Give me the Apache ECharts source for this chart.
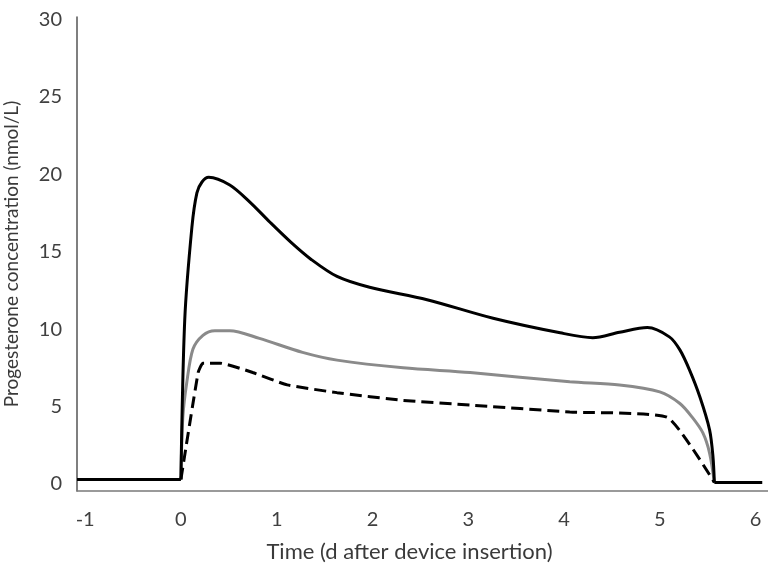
<!DOCTYPE html>
<html>
<head>
<meta charset="utf-8">
<script src="https://cdn.jsdelivr.net/npm/echarts@6/dist/echarts.min.js"></script>
<style>html,body{margin:0;padding:0;background:#fff}#c{width:768px;height:570px}</style>
</head>
<body>
<div id="c"></div>
<script>
// Tick labels
const xTicks = [-1, 0, 1, 2, 3, 4, 5, 6];
const yTicks = [0, 5, 10, 15, 20, 25, 30];

// Black solid curve (pre-insertion baseline, curve, post-removal baseline)
const blackPre = [[-1.085, 0.3], [0, 0.3]];
const blackCurve = [[0, 0.3], [0.04, 10.6], [0.115, 16.6], [0.167, 18.8], [0.22, 19.5], [0.29, 19.8], [0.51, 19.3], [0.72, 18.2], [0.93, 16.9], [1.15, 15.6], [1.36, 14.5], [1.63, 13.4], [1.97, 12.7], [2.57, 11.9], [3.26, 10.7], [3.96, 9.76], [4.3, 9.45], [4.58, 9.8], [4.87, 10.1], [5.1, 9.5], [5.21, 8.66], [5.31, 7.37], [5.42, 5.6], [5.52, 3.5], [5.555, 1.8], [5.57, 0.1]];
const blackPost = [[5.57, 0.1], [6.07, 0.1]];

// Grey solid curve
const greyCurve = [[0, 0.3], [0.02, 4.3], [0.06, 6.5], [0.125, 8.7], [0.23, 9.6], [0.355, 9.9], [0.51, 9.9], [0.82, 9.4], [1.27, 8.5], [1.63, 8.0], [2.32, 7.5], [3.02, 7.2], [4.06, 6.6], [4.58, 6.4], [5.0, 5.95], [5.21, 5.2], [5.34, 4.3], [5.45, 3.3], [5.52, 2.0], [5.57, 0.1]];

// Black dashed curve
const dashedCurve = [[0, 0.3], [0.18, 7.2], [0.23, 7.8], [0.41, 7.8], [0.75, 7.2], [1.11, 6.4], [1.63, 5.9], [2.32, 5.4], [3.02, 5.1], [4.06, 4.65], [5.08, 4.3], [5.57, 0.1]];

const chart = echarts.init(document.getElementById('c'), null, {renderer: 'canvas'});
const font = 'Lato';
const lineBase = {type: 'line', showSymbol: false, symbol: 'none', animation: false, silent: true};
chart.setOption({
  animation: false,
  grid: {left: 77, right: 0, top: 17, bottom: 79, containLabel: false, outerBoundsMode: 'none'},
  xAxis: {
    type: 'value', min: -1.085, max: 6.13,
    name: 'Time (d after device insertion)', nameLocation: 'middle', nameGap: 50,
    nameTextStyle: {fontFamily: font, fontSize: 22, color: '#3a3a3a', padding: [0, 26, 0, 0]},
    axisLine: {show: true, onZero: false, lineStyle: {color: '#7a7a7a', width: 1.5}},
    axisTick: {show: false},
    splitLine: {show: false},
    axisLabel: {customValues: xTicks, fontFamily: font, fontSize: 20, color: '#404040', margin: 19}
  },
  yAxis: {
    type: 'value', min: -0.45, max: 30.15,
    name: 'Progesterone concentration (nmol/L)', nameLocation: 'middle', nameGap: 56,
    nameTextStyle: {fontFamily: font, fontSize: 19, color: '#3a3a3a'},
    axisLine: {show: true, onZero: false, lineStyle: {color: '#555', width: 1.5}},
    axisTick: {show: false},
    splitLine: {show: false},
    axisLabel: {customValues: yTicks, fontFamily: font, fontSize: 20, color: '#404040', margin: 15}
  },
  series: [
    Object.assign({}, lineBase, {name: 'grey', data: greyCurve, smooth: 0.3, lineStyle: {color: '#8a8a8a', width: 3}, z: 2}),
    Object.assign({}, lineBase, {name: 'dashed', data: dashedCurve, smooth: 0.15, lineStyle: {color: '#000', width: 3, type: [12, 6]}, z: 3}),
    Object.assign({}, lineBase, {name: 'blackPre', data: blackPre, lineStyle: {color: '#000', width: 3}, z: 4}),
    Object.assign({}, lineBase, {name: 'black', data: blackCurve, smooth: 0.3, lineStyle: {color: '#000', width: 3}, z: 4}),
    Object.assign({}, lineBase, {name: 'blackPost', data: blackPost, lineStyle: {color: '#000', width: 3}, z: 4})
  ]
});
</script>
</body>
</html>
